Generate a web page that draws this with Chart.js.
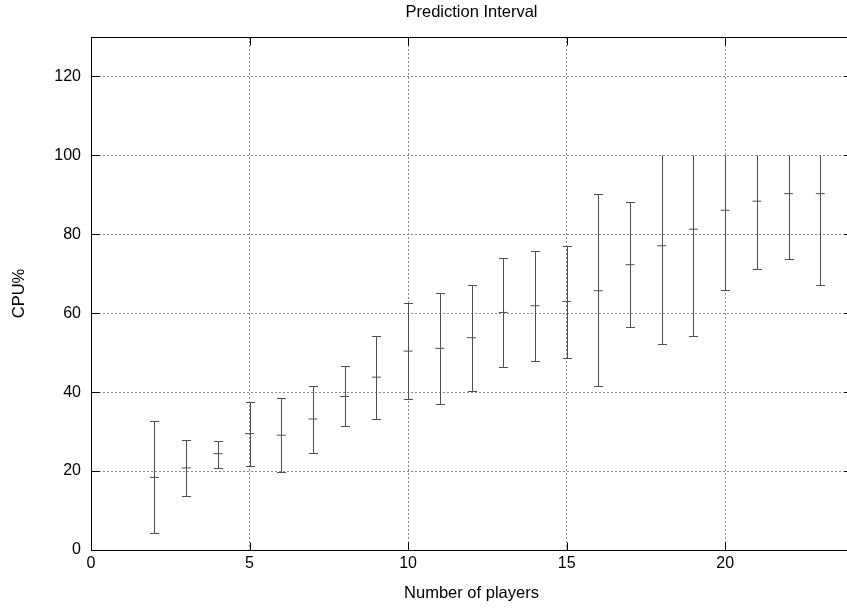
<!DOCTYPE html>
<html>
<head>
<meta charset="utf-8">
<title>Prediction Interval</title>
<script src="https://cdn.jsdelivr.net/npm/chart.js@4.4.1/dist/chart.umd.min.js"></script>
<style>
  html, body { margin: 0; padding: 0; background: #fff; overflow: hidden; width: 847px; height: 608px; }
  #view { width: 847px; height: 608px; overflow: hidden; position: relative; }
  #wrap { width: 900px; height: 608px; position: absolute; left: 0; top: 0; }
</style>
</head>
<body>
<div id="view"><div id="wrap"><canvas id="chart" width="900" height="608"></canvas></div></div>
<script>
// Number of players on the server
const players = [2, 3, 4, 5, 6, 7, 8, 9, 10, 11, 12, 13, 14, 15, 16, 17, 18, 19, 20, 21, 22, 23];
// Predicted CPU usage (%) and the lower / upper bound of its prediction interval
const meanCpu  = [18.4, 20.8, 24.4, 29.5, 29.1, 33.2, 38.9, 43.8, 50.4, 51.1, 53.8, 60.2, 61.9, 63.0, 65.7, 72.3, 77.1, 81.3, 86.1, 88.4, 90.3, 90.3];
const lowerCpu = [4.2, 13.8, 20.8, 21.2, 19.7, 24.7, 31.3, 33.3, 38.2, 36.9, 40.4, 46.3, 48.0, 48.7, 41.6, 56.6, 52.3, 54.3, 66.0, 71.1, 73.8, 67.2];
const upperCpu = [32.7, 27.9, 27.7, 37.6, 38.6, 41.6, 46.6, 54.3, 62.5, 65.1, 67.1, 74.1, 75.8, 77.0, 90.1, 88.1, 100, 100, 100, 100, 100, 100];
// Axis tick values
const xTicks = [0, 5, 10, 15, 20];
const yTicks = [0, 20, 40, 60, 80, 100, 120];

const FONT = 'Liberation Sans, Arial, Helvetica, sans-serif';
const INK = '#505050';

// Whiskers for every interval, plus a plotting frame with inward tick marks
const intervalPlugin = {
  id: 'intervals',
  afterDatasetsDraw(chart) {
    const { ctx, scales: { x, y } } = chart;
    const cap = 4.5;
    ctx.save();
    ctx.strokeStyle = INK;
    ctx.lineWidth = 1;
    ctx.beginPath();
    players.forEach((p, i) => {
      const px = Math.round(x.getPixelForValue(p)) + 0.5;
      const yl = Math.round(y.getPixelForValue(lowerCpu[i])) + 0.5;
      const yu = Math.round(y.getPixelForValue(upperCpu[i])) + 0.5;
      ctx.moveTo(px, yl);
      ctx.lineTo(px, yu);
      ctx.moveTo(px - cap, yl);
      ctx.lineTo(px + cap, yl);
      if (upperCpu[i] < 100) {
        ctx.moveTo(px - cap, yu);
        ctx.lineTo(px + cap, yu);
      }
    });
    ctx.stroke();
    ctx.restore();
  },
  afterDraw(chart) {
    const { ctx, chartArea: a, scales: { x, y } } = chart;
    const tl = 8;
    const L = Math.round(a.left) + 0.5, R = Math.round(a.right) + 0.5;
    const T = Math.round(a.top) + 0.5, B = Math.round(a.bottom) + 0.5;
    ctx.save();
    ctx.strokeStyle = '#000';
    ctx.lineWidth = 1;
    ctx.beginPath();
    // top, left and bottom edges of the frame
    ctx.moveTo(R, T); ctx.lineTo(L, T); ctx.lineTo(L, B); ctx.lineTo(R, B);
    xTicks.forEach(v => {
      const px = Math.round(x.getPixelForValue(v)) + 0.5;
      ctx.moveTo(px, B); ctx.lineTo(px, B - tl);
      ctx.moveTo(px, T); ctx.lineTo(px, T + tl);
    });
    yTicks.forEach(v => {
      const py = Math.round(y.getPixelForValue(v)) + 0.5;
      ctx.moveTo(L, py); ctx.lineTo(L + tl, py);
      ctx.moveTo(R, py); ctx.lineTo(R - tl, py);
    });
    ctx.stroke();
    ctx.restore();
  }
};

const gridStyle = {
  color: '#8a8a8a',
  lineWidth: 1,
  drawTicks: false
};

new Chart(document.getElementById('chart'), {
  type: 'scatter',
  data: {
    datasets: [{
      label: 'CPU%',
      data: players.map((p, i) => ({ x: p, y: meanCpu[i] })),
      pointStyle: 'line',
      pointRadius: 4.5,
      pointHoverRadius: 4.5,
      borderColor: INK,
      backgroundColor: INK,
      pointBorderWidth: 1
    }]
  },
  options: {
    responsive: false,
    animation: false,
    events: [],
    layout: { padding: { left: 0, right: 48, top: 0, bottom: 0 } },
    plugins: {
      legend: { display: false },
      tooltip: { enabled: false },
      title: {
        display: true,
        text: 'Prediction Interval',
        fullSize: false,
        color: '#000',
        font: { family: FONT, size: 16.5, weight: 'normal', lineHeight: 1.2 },
        padding: { top: 2.5, bottom: 14.7 }
      }
    },
    scales: {
      x: {
        type: 'linear',
        min: 0,
        max: 24,
        afterBuildTicks(scale) { scale.ticks = xTicks.map(v => ({ value: v })); },
        afterFit(scale) { scale.height = 58; },
        grid: gridStyle,
        border: { display: false, dash: [2, 2] },
        ticks: {
          color: '#000',
          padding: 4,
          maxRotation: 0,
          font: { family: FONT, size: 16 }
        },
        title: {
          display: true,
          text: 'Number of players',
          color: '#000',
          font: { family: FONT, size: 16.5, lineHeight: 1.2 },
          padding: { top: 4, bottom: 5 }
        }
      },
      y: {
        type: 'linear',
        min: 0,
        max: 130,
        afterBuildTicks(scale) { scale.ticks = yTicks.map(v => ({ value: v })); },
        afterFit(scale) { scale.width = 91; },
        grid: gridStyle,
        border: { display: false, dash: [2, 2] },
        ticks: {
          color: '#000',
          padding: 10,
          font: { family: FONT, size: 16 }
        },
        title: {
          display: true,
          text: 'CPU%',
          color: '#000',
          font: { family: FONT, size: 16.5, lineHeight: 1.2 },
          padding: { top: 9.5, bottom: 4 }
        }
      }
    }
  },
  plugins: [intervalPlugin]
});
</script>
</body>
</html>
